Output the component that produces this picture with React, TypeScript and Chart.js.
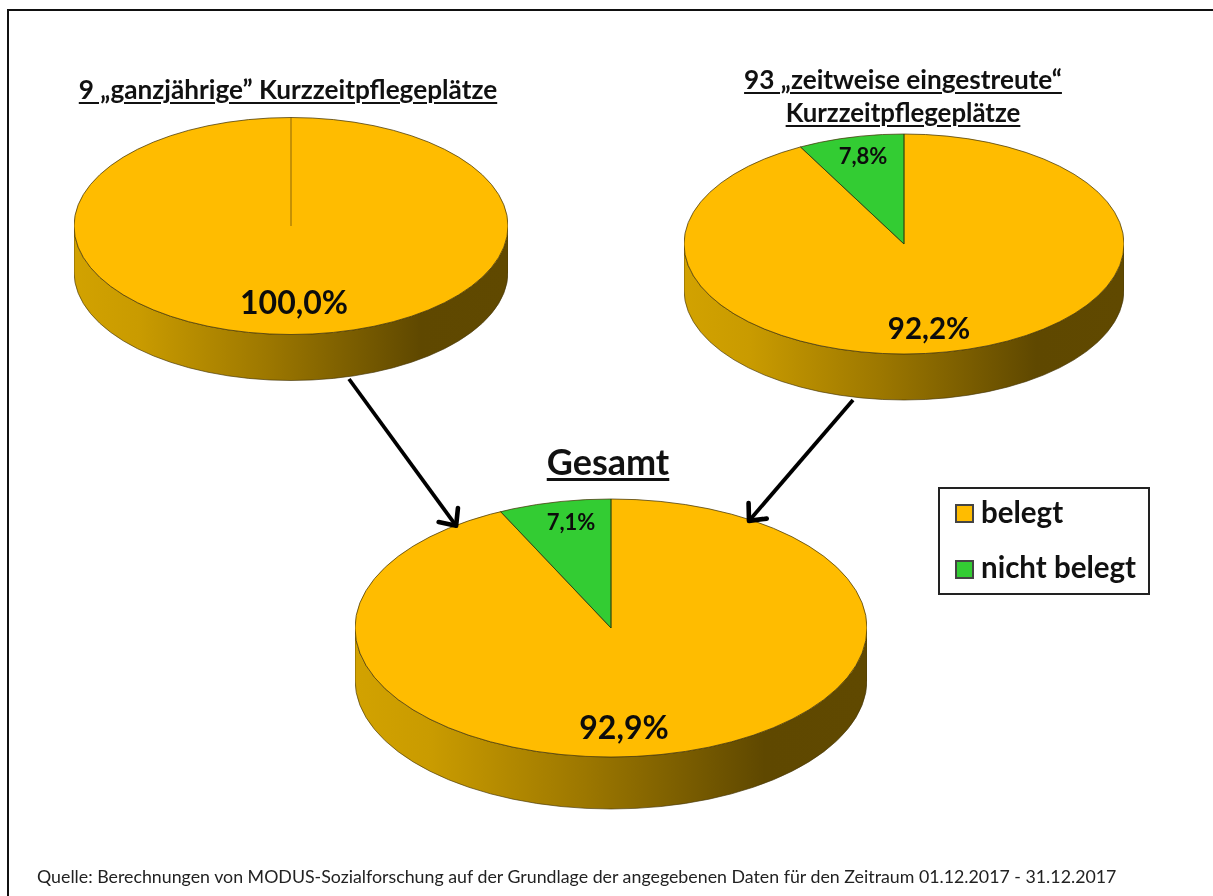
import React, { useEffect, useRef } from "react";
import { Chart, registerables } from "chart.js";

Chart.register(...registerables);

const categories = ["belegt", "nicht belegt"];
const seasonalValues = [100, 0];
const scatteredValues = [92.2, 7.8];
const totalValues = [92.9, 7.1];

const seasonalLabels = ["100,0%", ""];
const scatteredLabels = ["92,2%", "7,8%"];
const totalLabels = ["92,9%", "7,1%"];

const titleSeasonal = "9 „ganzjährige” Kurzzeitpflegeplätze";
const titleScattered = ["93 „zeitweise eingestreute“", "Kurzzeitpflegeplätze"];
const titleTotal = "Gesamt";
const source =
  "Quelle: Berechnungen von MODUS-Sozialforschung auf der Grundlage der angegebenen Daten für den Zeitraum 01.12.2017 - 31.12.2017";

const ORANGE = "#FFBC00";
const GREEN = "#33CC33";
const FONT = "Lato, Carlito, sans-serif";
const colors = [ORANGE, GREEN];

type PieCfg = {
  values: number[];
  labels: string[];
  cx: number;
  cy: number;
  rx: number;
  ry: number;
  depth: number;
  labelPos: number[][];
  labelSize: number[];
};

const pies: PieCfg[] = [
  { values: seasonalValues, labels: seasonalLabels, cx: 290.5, cy: 226, rx: 217, ry: 108.5, depth: 46, labelPos: [[3, 78], [0, 0]], labelSize: [32, 20] },
  { values: scatteredValues, labels: scatteredLabels, cx: 904, cy: 244, rx: 220, ry: 110, depth: 46, labelPos: [[25, 85], [-41, -87]], labelSize: [29.5, 22] },
  { values: totalValues, labels: totalLabels, cx: 611, cy: 628, rx: 256, ry: 129, depth: 52, labelPos: [[13, 101], [-40, -105]], labelSize: [32, 22] },
];

function makePlugin(cfg: PieCfg) {
  const ratio = cfg.ry / cfg.rx;
  return {
    id: "pie3d",
    beforeDatasetsDraw(chart: any) {
      const ctx = chart.ctx;
      const arc = chart.getDatasetMeta(0).data[0];
      const { x, y, outerRadius: r } = arc;
      const ry = r * ratio;
      const g = ctx.createLinearGradient(x - r, 0, x + r, 0);
      g.addColorStop(0, "#D2A200");
      g.addColorStop(0.15, "#C99B00");
      g.addColorStop(0.45, "#9C7700");
      g.addColorStop(0.8, "#5F4800");
      g.addColorStop(1, "#604900");
      ctx.beginPath();
      ctx.ellipse(x, y + cfg.depth, r, ry, 0, 0, Math.PI);
      ctx.lineTo(x - r, y);
      ctx.ellipse(x, y, r, ry, 0, Math.PI, 0, true);
      ctx.closePath();
      ctx.fillStyle = g;
      ctx.fill();
      ctx.strokeStyle = "rgba(70,55,10,0.65)";
      ctx.lineWidth = 1;
      ctx.stroke();
      ctx.save();
      ctx.translate(x, y);
      ctx.scale(1, ratio);
      ctx.translate(-x, -y);
    },
    afterDatasetsDraw(chart: any) {
      const ctx = chart.ctx;
      ctx.restore();
      const arcs = chart.getDatasetMeta(0).data;
      const { x, y, outerRadius: r } = arcs[0];
      const ry = r * ratio;
      ctx.lineWidth = 1;
      arcs.forEach((a: any) => {
        if (a.endAngle - a.startAngle <= 0) return;
        ctx.beginPath();
        ctx.moveTo(x, y);
        ctx.lineTo(x + r * Math.cos(a.startAngle), y + ry * Math.sin(a.startAngle));
        ctx.strokeStyle = "rgba(110,80,10,0.8)";
        ctx.stroke();
      });
      ctx.beginPath();
      ctx.ellipse(x, y, r, ry, 0, 0, Math.PI * 2);
      ctx.strokeStyle = "rgba(70,55,10,0.75)";
      ctx.stroke();
      const w = arcs.find((a: any, i: number) => i === 1 && a.endAngle - a.startAngle > 0);
      if (w) {
        ctx.beginPath();
        ctx.moveTo(x + r * Math.cos(w.startAngle), y + ry * Math.sin(w.startAngle));
        ctx.lineTo(x, y);
        ctx.lineTo(x + r * Math.cos(w.endAngle), y + ry * Math.sin(w.endAngle));
        ctx.strokeStyle = "rgba(20,70,20,0.8)";
        ctx.stroke();
      }
      ctx.fillStyle = "#0c0c0c";
      ctx.textAlign = "center";
      ctx.textBaseline = "middle";
      cfg.labels.forEach((t, i) => {
        if (!t) return;
        ctx.font = `bold ${cfg.labelSize[i]}px ${FONT}`;
        ctx.fillText(t, x + cfg.labelPos[i][0], y + cfg.labelPos[i][1]);
      });
    },
  };
}

function Pie({ cfg }: { cfg: PieCfg }) {
  const ref = useRef<HTMLCanvasElement>(null);
  useEffect(() => {
    const chart = new Chart(ref.current as HTMLCanvasElement, {
      type: "pie",
      data: {
        labels: categories,
        datasets: [{ data: cfg.values, backgroundColor: colors, borderWidth: 0, hoverOffset: 0 }],
      },
      options: {
        responsive: false,
        animation: false,
        events: [],
        layout: { padding: 0 },
        plugins: { legend: { display: false }, tooltip: { enabled: false } },
      },
      plugins: [makePlugin(cfg)],
    } as any);
    return () => chart.destroy();
  }, [cfg]);
  const size = cfg.rx * 2;
  return (
    <canvas
      ref={ref}
      width={size}
      height={size}
      style={{ position: "absolute", left: cfg.cx - cfg.rx, top: cfg.cy - cfg.rx }}
    />
  );
}

const titleStyle: React.CSSProperties = {
  position: "absolute",
  transform: "translateX(-50%)",
  whiteSpace: "nowrap",
  fontFamily: FONT,
  fontWeight: 700,
  color: "#111",
  textDecoration: "underline",
  textDecorationThickness: "2px",
  textUnderlineOffset: "3px",
  lineHeight: 1,
};

function Arrow({ x1, y1, x2, y2 }: { x1: number; y1: number; x2: number; y2: number }) {
  const a = Math.atan2(y2 - y1, x2 - x1);
  const len = 19;
  const sp = 0.68;
  const p1 = [x2 - len * Math.cos(a - sp), y2 - len * Math.sin(a - sp)];
  const p2 = [x2 - len * Math.cos(a + sp), y2 - len * Math.sin(a + sp)];
  return (
    <g stroke="#000" fill="none" strokeLinecap="round" strokeLinejoin="round">
      <line x1={x1} y1={y1} x2={x2 - 3 * Math.cos(a)} y2={y2 - 3 * Math.sin(a)} strokeWidth={3.8} strokeLinecap="butt" />
      <polyline points={`${p1[0]},${p1[1]} ${x2 - 1.5 * Math.cos(a)},${y2 - 1.5 * Math.sin(a)} ${p2[0]},${p2[1]}`} strokeWidth={4.6} />
    </g>
  );
}

export default function App() {
  return (
    <div style={{ position: "fixed", left: 0, top: 0, width: 1213, height: 896, overflow: "hidden", background: "#fff" }}>
      <div style={{ position: "absolute", left: 7, top: 9, width: 1300, height: 1000, border: "2px solid #111" }} />
      {pies.map((c, i) => (
        <Pie key={i} cfg={c} />
      ))}
      <svg width={1213} height={896} style={{ position: "absolute", left: 0, top: 0 }}>
        <Arrow x1={349} y1={379} x2={457} y2={527} />
        <Arrow x1={853} y1={400} x2={748} y2={522} />
      </svg>
      <div style={{ ...titleStyle, left: 288, top: 76, fontSize: 26.2 }}>{titleSeasonal}</div>
      <div style={{ ...titleStyle, left: 903, top: 66, fontSize: 26.2 }}>{titleScattered[0]}</div>
      <div style={{ ...titleStyle, left: 903, top: 100, fontSize: 25.8 }}>{titleScattered[1]}</div>
      <div style={{ ...titleStyle, left: 608, top: 443, fontSize: 36, textDecorationThickness: "3px" }}>{titleTotal}</div>
      <div style={{ position: "absolute", left: 938, top: 487, width: 208, height: 104, border: "2px solid #222", background: "#fff" }} />
      <div style={{ position: "absolute", left: 955, top: 504, width: 15, height: 15, background: ORANGE, border: "2px solid #444" }} />
      <div style={{ position: "absolute", left: 955, top: 560, width: 15, height: 15, background: GREEN, border: "2px solid #444" }} />
      <div style={{ position: "absolute", left: 981, top: 497, fontFamily: FONT, fontWeight: 700, fontSize: 29.5, lineHeight: 1, color: "#111", whiteSpace: "nowrap" }}>{categories[0]}</div>
      <div style={{ position: "absolute", left: 981, top: 552, fontFamily: FONT, fontWeight: 700, fontSize: 29.5, lineHeight: 1, color: "#111", whiteSpace: "nowrap" }}>{categories[1]}</div>
      <div style={{ position: "absolute", left: 37, top: 868, fontFamily: FONT, fontSize: 17.8, lineHeight: 1, color: "#222", whiteSpace: "nowrap" }}>{source}</div>
    </div>
  );
}
